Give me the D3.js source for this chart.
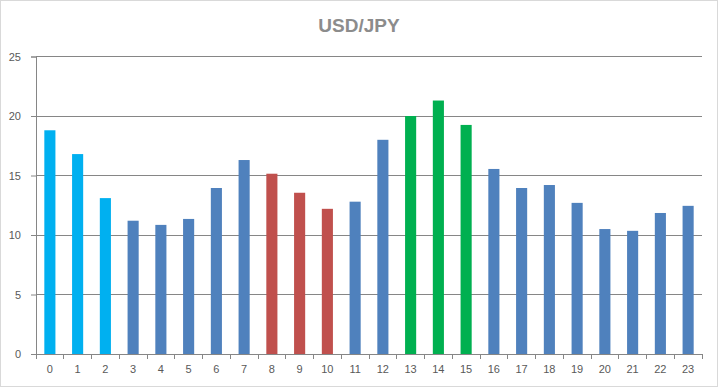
<!DOCTYPE html>
<html><head><meta charset="utf-8">
<script src="https://cdn.jsdelivr.net/npm/d3@7"></script>
<style>body{margin:0;background:#fff}svg{display:block}</style>
</head><body>
<script>
const categories = ["0","1","2","3","4","5","6","7","8","9","10","11","12","13","14","15","16","17","18","19","20","21","22","23"];
const values = [18.8,16.8,13.1,11.2,10.85,11.35,13.95,16.3,15.15,13.55,12.2,12.8,18.0,20.0,21.3,19.25,15.55,13.95,14.2,12.7,10.5,10.35,11.85,12.45];
const groups = ["a","a","a","b","b","b","b","b","c","c","c","b","b","d","d","d","b","b","b","b","b","b","b","b"];
const groupColors = {a:"#00b0f0", b:"#4f81bd", c:"#c0504d", d:"#00b050"};
const yTicks = [0,5,10,15,20,25];
const title = "USD/JPY";

const W = 718, H = 388;
const m = {left:36, right:16, top:56.5, bottom:34};
const svg = d3.select("body").append("svg").attr("width", W).attr("height", H);
svg.append("rect").attr("x",0.5).attr("y",0.5).attr("width",W-1).attr("height",H-2)
  .attr("fill","#fff").attr("stroke","#d9d9d9");

const x = d3.scaleBand().domain(categories).range([m.left, W-m.right]).paddingInner(0.6).paddingOuter(0.3);
const y = d3.scaleLinear().domain([0,25]).range([H-m.bottom, m.top]);

svg.append("text").attr("x", 359).attr("y", 32).attr("text-anchor","middle")
  .attr("font-family","'Liberation Sans', Arial, sans-serif").attr("font-weight","bold")
  .attr("font-size",19).attr("fill","#8c8c8c").text(title);

// grid
const yAxis = svg.append("g").attr("transform",`translate(${m.left},0)`)
  .call(d3.axisLeft(y).tickValues(yTicks).tickSize(5).tickPadding(10));
yAxis.select(".domain").attr("stroke","#868686");
yAxis.selectAll(".tick line").attr("stroke","#868686");
yAxis.selectAll(".tick text").attr("fill","#595959").attr("font-size",11)
  .attr("font-family","'Liberation Sans', Arial, sans-serif");
svg.append("g").selectAll("line").data(yTicks.filter(t=>t>0)).join("line")
  .attr("x1", m.left).attr("x2", W-m.right).attr("y1", d=>y(d)).attr("y2", d=>y(d))
  .attr("stroke","#868686").attr("stroke-width",1).attr("shape-rendering","crispEdges");

// bars
svg.append("g").selectAll("rect").data(values).join("rect")
  .attr("x",(d,i)=>x(categories[i])).attr("width",x.bandwidth())
  .attr("y",d=>y(d)).attr("height",d=>y(0)-y(d))
  .attr("fill",(d,i)=>groupColors[groups[i]]);

// x axis
const xAxis = svg.append("g").attr("transform",`translate(0,${y(0)})`)
  .call(d3.axisBottom(x).tickSize(0).tickPadding(11));
xAxis.select(".domain").attr("stroke","#868686");
xAxis.selectAll(".tick text").attr("fill","#595959").attr("font-size",11)
  .attr("font-family","'Liberation Sans', Arial, sans-serif");
const step = x.step();
const bounds = d3.range(categories.length+1).map(i => m.left + i*((W-m.right-m.left)/categories.length));
svg.append("g").selectAll("line").data(bounds).join("line")
  .attr("x1",d=>d).attr("x2",d=>d).attr("y1",y(0)).attr("y2",y(0)+5)
  .attr("stroke","#868686").attr("shape-rendering","crispEdges");
</script>
</body></html>
